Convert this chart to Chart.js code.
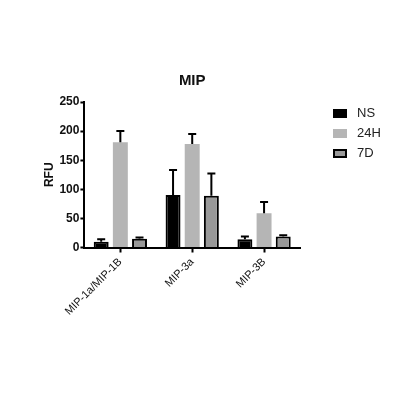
<!DOCTYPE html>
<html lang="en">
<head>
    <meta charset="UTF-8">
    <title>MIP</title>
    <script src="https://cdn.jsdelivr.net/npm/chart.js"></script>
    <style>
        body {
            margin: 0;
            background: #ffffff;
            font-family: "Liberation Sans", Arial, sans-serif;
        }
        .wrap {
            position: relative;
            width: 420px;
            height: 393px;
        }
        .legend {
            position: absolute;
            left: 333px;
            top: 103px;
            font-size: 13px;
            color: #222;
        }
        .legend div {
            height: 20px;
            line-height: 14px;
            display: flex;
            align-items: center;
        }
        .legend span.box {
            display: inline-block;
            width: 14px;
            height: 9px;
            margin-right: 10px;
            box-sizing: border-box;
        }
    </style>
</head>
<body>
<div class="wrap">
    <canvas id="mipChart" width="420" height="393"></canvas>
    <div class="legend" id="legend"></div>
</div>

<script>
    const categories = ["MIP-1a/MIP-1B", "MIP-3a", "MIP-3B"];
    const seriesNames = ["NS", "24H", "7D"];
    const nsValues = [10, 90, 14];
    const h24Values = [181, 178, 59];
    const d7Values = [15, 89, 19];
    // upper error (SD) for each bar
    const nsErrors = [4, 43, 5];
    const h24Errors = [19, 17, 19];
    const d7Errors = [2, 38, 2];
    const yTicks = [0, 50, 100, 150, 200, 250];

    const fills = ["#000000", "#b5b5b5", "#999999"];
    const borders = ["#000000", "#b5b5b5", "#000000"];

    // simple upper error bars drawn from the bar top
    const errorBars = {
        id: 'errorBars',
        afterDatasetsDraw(chart) {
            const ctx = chart.ctx;
            const yScale = chart.scales.y;
            chart.data.datasets.forEach((ds, i) => {
                const meta = chart.getDatasetMeta(i);
                meta.data.forEach((bar, j) => {
                    const top = yScale.getPixelForValue(ds.data[j] + ds.errors[j]);
                    ctx.save();
                    ctx.strokeStyle = "#000";
                    ctx.lineWidth = 2;
                    ctx.beginPath();
                    ctx.moveTo(bar.x, bar.y);
                    ctx.lineTo(bar.x, top);
                    ctx.moveTo(bar.x - 4, top);
                    ctx.lineTo(bar.x + 4, top);
                    ctx.stroke();
                    ctx.restore();
                });
            });
        }
    };

    const ctx = document.getElementById('mipChart').getContext('2d');
    new Chart(ctx, {
        type: 'bar',
        data: {
            labels: categories,
            datasets: [
                { label: seriesNames[0], data: nsValues, errors: nsErrors, backgroundColor: fills[0], borderColor: borders[0], borderWidth: 2 },
                { label: seriesNames[1], data: h24Values, errors: h24Errors, backgroundColor: fills[1], borderColor: borders[1], borderWidth: 0 },
                { label: seriesNames[2], data: d7Values, errors: d7Errors, backgroundColor: fills[2], borderColor: borders[2], borderWidth: 2 }
            ]
        },
        options: {
            responsive: false,
            animation: false,
            categoryPercentage: 0.8,
            barPercentage: 0.78,
            layout: {
                padding: { left: 42, right: 120, top: 72, bottom: 72 }
            },
            plugins: {
                legend: { display: false },
                tooltip: { enabled: false },
                title: {
                    display: true,
                    fullSize: false,
                    text: 'MIP',
                    color: '#111',
                    font: { family: 'Liberation Sans', size: 15, weight: 'bold' },
                    padding: { top: 0, bottom: 12 }
                }
            },
            scales: {
                x: {
                    grid: {
                        offset: false,
                        drawOnChartArea: false,
                        color: '#000',
                        tickLength: 5,
                        tickWidth: 2
                    },
                    border: { color: '#000', width: 2 },
                    ticks: {
                        color: '#111',
                        minRotation: 45,
                        maxRotation: 45,
                        font: { family: 'Liberation Sans', size: 11 }
                    }
                },
                y: {
                    min: 0,
                    max: 250,
                    afterBuildTicks(axis) {
                        axis.ticks = yTicks.map(v => ({ value: v }));
                    },
                    grid: {
                        drawOnChartArea: false,
                        color: '#000',
                        tickLength: 4,
                        tickWidth: 2
                    },
                    border: { color: '#000', width: 2 },
                    ticks: {
                        color: '#111',
                        padding: 1,
                        font: { family: 'Liberation Sans', size: 12, weight: 'bold' }
                    },
                    title: {
                        display: true,
                        text: 'RFU',
                        color: '#111',
                        padding: { top: 0, bottom: 2 },
                        font: { family: 'Liberation Sans', size: 12, weight: 'bold' }
                    }
                }
            }
        },
        plugins: [errorBars]
    });

    // legend
    const legendEl = document.getElementById('legend');
    seriesNames.forEach((name, i) => {
        const row = document.createElement('div');
        const box = document.createElement('span');
        box.className = 'box';
        box.style.background = fills[i];
        box.style.border = i === 2 ? '2px solid #000' : 'none';
        row.appendChild(box);
        row.appendChild(document.createTextNode(name));
        legendEl.appendChild(row);
    });
</script>
</body>
</html>
